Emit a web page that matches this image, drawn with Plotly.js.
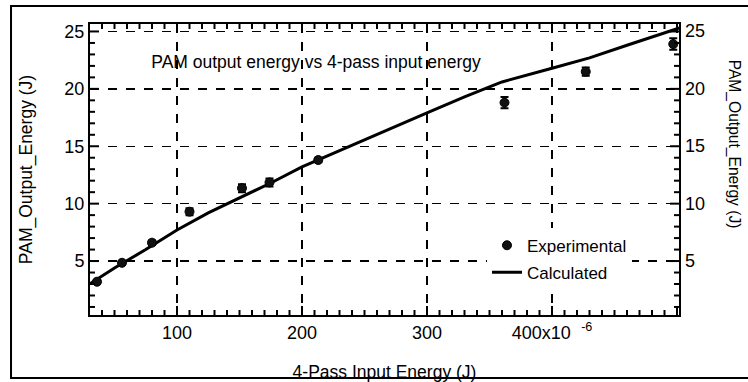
<!DOCTYPE html>
<html>
<head>
<meta charset="utf-8">
<script src="https://cdn.plot.ly/plotly-3.0.1.min.js"></script>
<style>
html,body{margin:0;padding:0;background:#fff;}
#chart{width:748px;height:382px;}
</style>
</head>
<body>
<div id="chart"></div>
<script>
// Experimental data
const expX = [36, 56, 80, 110, 152, 174, 213, 362, 427, 497];
const expY = [3.2, 4.85, 6.6, 9.3, 11.35, 11.85, 13.8, 18.8, 21.5, 23.9];
const expErr = [0.15, 0.15, 0.2, 0.3, 0.35, 0.35, 0.2, 0.5, 0.35, 0.5];
// Calculated curve
const calcX = [30, 50, 75, 100, 125, 150, 175, 200, 240, 275, 300, 330, 360, 400, 430, 460, 490, 502];
const calcY = [3.0, 4.4, 6.0, 7.7, 9.2, 10.5, 11.8, 13.2, 15.1, 16.7, 17.9, 19.3, 20.6, 21.8, 22.7, 23.8, 24.9, 25.3];
// Tick labels
const xTickVals = [100, 200, 300, 400];
const xTickText = ['100', '200', '300', '400x10<sup>\u00a0\u00a0\u00a0-6</sup>'];
const yTickVals = [5, 10, 15, 20, 25];
const yTickText = ['5', '10', '15', '20', '25'];

const FONT = 'Liberation Sans, Arial, sans-serif';
const X_RANGE = [30.4, 501.6];
const Y_RANGE = [0.3, 25.65];

const traces = [
  {
    x: calcX, y: calcY, type: 'scatter', mode: 'lines', name: 'Calculated',
    line: {color: '#000', width: 3}, legendgroup: 'b', legendrank: 2
  },
  {
    x: expX, y: expY, type: 'scatter', mode: 'markers', name: 'Experimental',
    marker: {symbol: 'circle', color: '#111', size: 9, line: {color: '#000', width: 1}},
    error_y: {type: 'data', array: expErr, visible: true, color: '#000', thickness: 2, width: 4},
    legendgroup: 'a', legendrank: 1
  }
];

// tick marks drawn as axis-referenced decorations on all four sides
const tickShapes = [];
const tl = {color: '#000', width: 2};
for (let v = 40; v <= X_RANGE[1]; v += 10) {
  const len = (v % 100 === 0) ? 9 : 5;
  tickShapes.push({type: 'line', xref: 'x', yref: 'paper', ysizemode: 'pixel', yanchor: 0, x0: v, x1: v, y0: 0, y1: len, line: tl, layer: 'above'});
  tickShapes.push({type: 'line', xref: 'x', yref: 'paper', ysizemode: 'pixel', yanchor: 1, x0: v, x1: v, y0: 0, y1: -len, line: tl, layer: 'above'});
}
for (let v = 1; v <= Y_RANGE[1]; v += 1) {
  const len = (v % 5 === 0) ? 9 : 5;
  tickShapes.push({type: 'line', yref: 'y', xref: 'paper', xsizemode: 'pixel', xanchor: 0, y0: v, y1: v, x0: 0, x1: len, line: tl, layer: 'above'});
  tickShapes.push({type: 'line', yref: 'y', xref: 'paper', xsizemode: 'pixel', xanchor: 1, y0: v, y1: v, x0: 0, x1: -len, line: tl, layer: 'above'});
}

// right-hand tick labels (mirror of the left y axis labels)
const rightLabels = yTickVals.map(function(v, i) {
  return {
    text: yTickText[i], xref: 'paper', yref: 'y', x: 1, y: v,
    xanchor: 'left', yanchor: 'middle', xshift: 4, showarrow: false,
    font: {family: FONT, size: 18, color: '#000'}
  };
});

const layout = {
  width: 748, height: 382,
  margin: {l: 90, r: 69, t: 24, b: 67},
  paper_bgcolor: '#fff', plot_bgcolor: '#fff',
  font: {family: FONT, color: '#000'},
  title: {
    text: 'PAM output energy vs 4-pass input energy',
    font: {family: FONT, size: 17.5, color: '#000'},
    x: 0.4225, xanchor: 'center', y: 0.838, yanchor: 'middle', xref: 'container', yref: 'container'
  },
  xaxis: {
    range: X_RANGE, showline: true, linecolor: '#000', linewidth: 2, mirror: true,
    ticks: '', zeroline: false,
    tickfont: {family: FONT, size: 18, color: '#000'},
    tickvals: xTickVals, ticktext: xTickText,
    showgrid: true, gridcolor: '#000', gridwidth: 1.5, griddash: 'dash',
    title: {text: '4-Pass Input Energy (J)', font: {family: FONT, size: 17.5, color: '#000'}, standoff: 25}
  },
  yaxis: {
    range: Y_RANGE, showline: true, linecolor: '#000', linewidth: 2, mirror: true,
    ticks: '', zeroline: false,
    tickfont: {family: FONT, size: 18, color: '#000'},
    tickvals: yTickVals, ticktext: yTickText,
    showgrid: true, gridcolor: '#000', gridwidth: 1.5, griddash: 'dash',
    title: {text: 'PAM_Output_Energy (J)', font: {family: FONT, size: 17.5, color: '#000'}, standoff: 27}
  },
  legend: {
    x: 0.674, y: 0.30, xanchor: 'left', yanchor: 'top',
    bgcolor: '#fff', borderwidth: 0,
    font: {family: FONT, size: 17, color: '#000'},
    traceorder: 'grouped', tracegroupgap: 2
  },
  shapes: [
    {
      type: 'rect', xref: 'paper', yref: 'paper',
      x0: -0.1341, x1: 1.14, y0: -0.2165, y1: 1.0619,
      line: {color: '#000', width: 2}, fillcolor: 'rgba(0,0,0,0)', layer: 'above'
    }
  ].concat(tickShapes),
  annotations: rightLabels.concat([
    {
      text: 'PAM_Output_Energy (J)', textangle: 90,
      xref: 'paper', yref: 'paper', x: 1.093, y: 0.586,
      xanchor: 'center', yanchor: 'middle', showarrow: false,
      font: {family: FONT, size: 15.6, color: '#000'}
    }
  ]),
  showlegend: true
};

Plotly.newPlot('chart', traces, layout, {displayModeBar: false, staticPlot: true});
</script>
</body>
</html>
